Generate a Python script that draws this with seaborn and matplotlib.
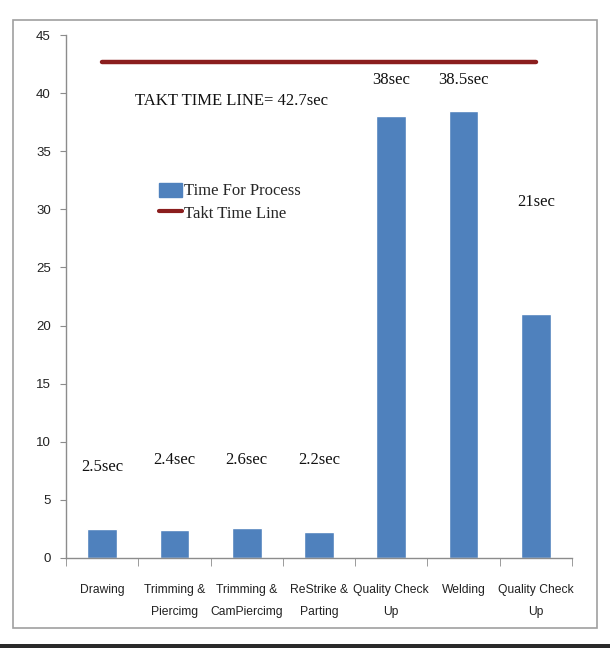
import matplotlib
matplotlib.use("Agg")
import matplotlib.pyplot as plt
import seaborn as sns
import pandas as pd
import numpy as np
from matplotlib.patches import Rectangle
from matplotlib.lines import Line2D

categories = ["Drawing", "Trimming &\nPiercimg", "Trimming &\nCamPiercimg",
              "ReStrike &\nParting", "Quality Check\nUp", "Welding", "Quality Check\nUp"]
keys = [f"c{i}" for i in range(len(categories))]
times = [2.5, 2.4, 2.6, 2.2, 38.0, 38.5, 21.0]
value_labels = ["2.5sec", "2.4sec", "2.6sec", "2.2sec", "38sec", "38.5sec", "21sec"]
label_heights = [7.8, 8.4, 8.4, 8.4, 41.1, 41.1, 30.6]
takt_time = 42.7
takt_text = "TAKT TIME LINE= 42.7sec"
yticks = [0, 5, 10, 15, 20, 25, 30, 35, 40, 45]

sns.set_style("white")
plt.rcParams['font.family'] = ['Liberation Sans Narrow', 'Liberation Sans', 'DejaVu Sans']

df = pd.DataFrame({"key": keys, "time": times})

fig = plt.figure(figsize=(6.1, 6.48), dpi=100)
ax = fig.add_axes([66/610, 1 - 558/648, (572-66)/610, (558-35)/648])

bar_color = "#4F81BD"
sns.barplot(data=df, x="key", y="time", order=keys, color=bar_color,
            width=0.41, saturation=1, ax=ax)

takt_color = "#8B1E1E"
ax.plot([0, len(keys) - 1], [takt_time, takt_time], color=takt_color, lw=3.2,
        solid_capstyle="round", zorder=3)

serif = ['Liberation Serif', 'DejaVu Serif']
for i, (lab, h) in enumerate(zip(value_labels, label_heights)):
    ax.text(i, h, lab, ha="center", va="center", fontsize=12, family=serif,
            color="#111111")
ax.text(0.45, 39.3, takt_text, ha="left", va="center", fontsize=12, family=serif,
        color="#111111")

ax.set_xlim(-0.5, len(keys) - 0.5)
ax.set_ylim(0, 45)
ax.set_yticks(yticks)
ax.set_yticklabels([str(t) for t in yticks], fontsize=9.5)
ax.set_xticks(range(len(keys)))
ax.set_xticklabels(categories, fontsize=8.7, linespacing=2.1)
ax.set_xlabel("")
ax.set_ylabel("")

for s in ["top", "right"]:
    ax.spines[s].set_visible(False)
for s in ["left", "bottom"]:
    ax.spines[s].set_color("#8C8C8C")
    ax.spines[s].set_linewidth(1.0)

ax.tick_params(axis="y", which="both", left=True, length=4, color="#8C8C8C",
               pad=7, labelcolor="#222222")
ax.tick_params(axis="x", which="major", bottom=False, pad=15, labelcolor="#222222")
ax.set_xticks(np.arange(-0.5, len(keys), 1.0), minor=True)
ax.tick_params(axis="x", which="minor", bottom=True, length=6, color="#8C8C8C")

handles = [Rectangle((0, 0), 1, 1, color=bar_color),
           Line2D([0], [0], color=takt_color, lw=3)]
leg = ax.legend(handles, ["Time For Process", "Takt Time Line"],
                loc="upper left", bbox_to_anchor=((152-66)/506, 1 - (176-35)/523),
                frameon=False, handlelength=1.4, handleheight=0.9,
                handletextpad=0.1, borderaxespad=0, labelspacing=0.35,
                prop={'family': serif, 'size': 12})

fig.patches.append(Rectangle((13/610, 1 - 628/648), (597-13)/610, (628-20)/648,
                             transform=fig.transFigure, fill=False,
                             edgecolor="#A0A0A0", lw=1.2))
fig.patches.append(Rectangle((0, 0), 1, 4/648, transform=fig.transFigure,
                             facecolor="#2A2A2A", edgecolor="none"))

fig.savefig("out.png", dpi=100)
